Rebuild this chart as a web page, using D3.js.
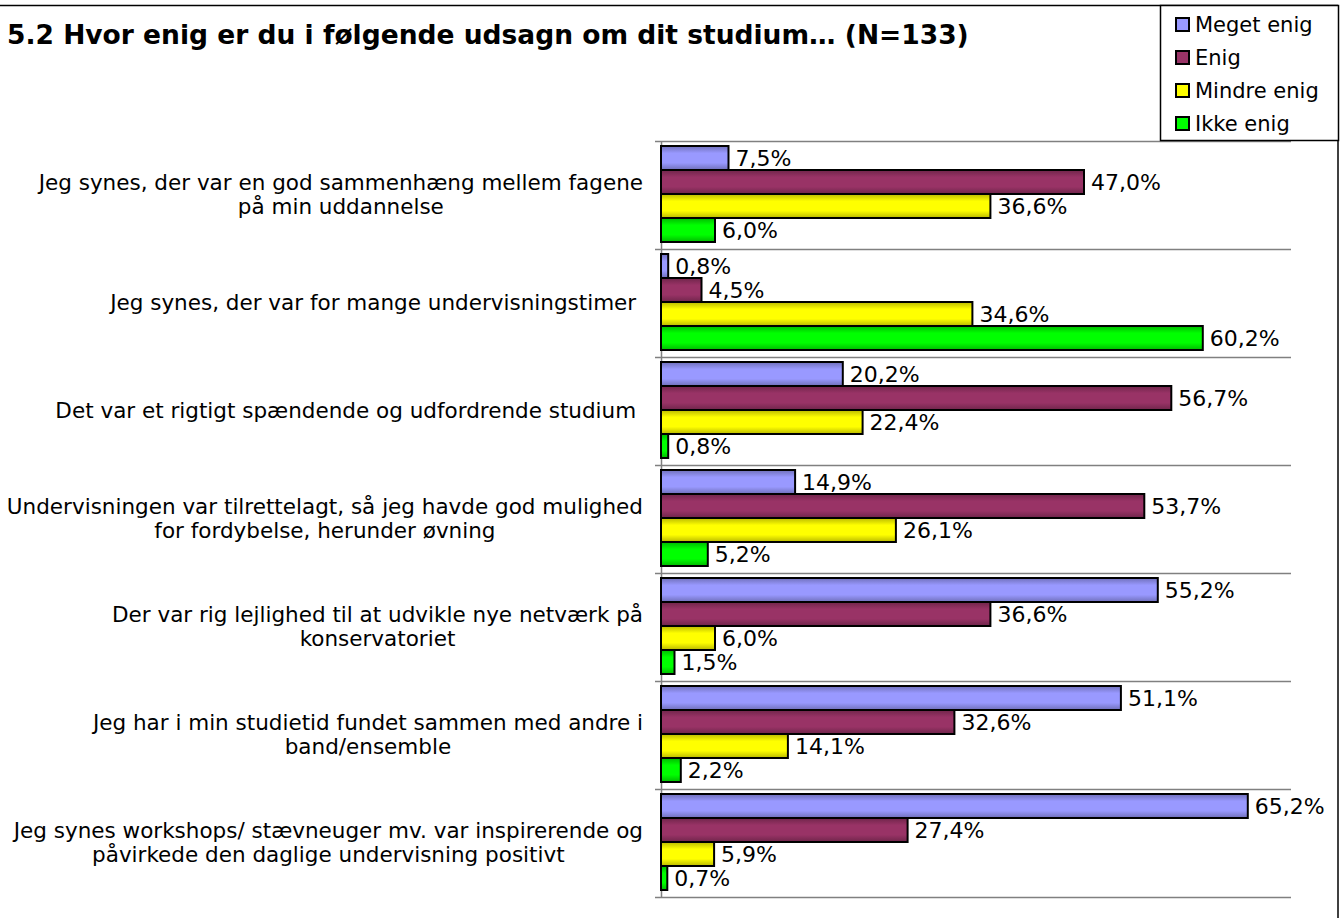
<!DOCTYPE html>
<html lang="da">
<head>
<meta charset="utf-8">
<script src="https://d3js.org/d3.v7.min.js"></script>
<style>
  body { margin: 0; background: #fff; }
  text { font-family: Verdana, "DejaVu Sans", sans-serif; fill: #000; white-space: pre; }
</style>
</head>
<body>
<script>
// chart data
var categories = [
  ["Jeg synes, der var en god sammenhæng mellem fagene", "på min uddannelse"],
  ["Jeg synes, der var for mange undervisningstimer "],
  ["Det var et rigtigt spændende og udfordrende studium "],
  ["Undervisningen var tilrettelagt, så jeg havde god mulighed", "for fordybelse, herunder øvning"],
  ["Der var rig lejlighed til at udvikle nye netværk på", "konservatoriet"],
  ["Jeg har i min studietid fundet sammen med andre i", "band/ensemble"],
  ["Jeg synes workshops/ stævneuger mv. var inspirerende og", "påvirkede den daglige undervisning positivt"]
];
var seriesNames = ["Meget enig", "Enig", "Mindre enig", "Ikke enig"];
var megetEnig = [7.5, 0.8, 20.2, 14.9, 55.2, 51.1, 65.2];
var enig = [47.0, 4.5, 56.7, 53.7, 36.6, 32.6, 27.4];
var mindreEnig = [36.6, 34.6, 22.4, 26.1, 6.0, 14.1, 5.9];
var ikkeEnig = [6.0, 60.2, 0.8, 5.2, 1.5, 2.2, 0.7];
var seriesColors = ["#9999ff", "#993366", "#ffff00", "#00ff00"];
var seriesValues = [megetEnig, enig, mindreEnig, ikkeEnig];

var width = 1344, height = 918;
var svg = d3.select("body").append("svg")
  .attr("width", width).attr("height", height);

// gradients for the shaded bar look
var defs = svg.append("defs");
seriesColors.forEach(function (c, i) {
  var g = defs.append("linearGradient").attr("id", "grad" + i)
    .attr("x1", 0).attr("y1", 0).attr("x2", 0).attr("y2", 1);
  var dark = d3.color(c).darker(0.9);
  g.append("stop").attr("offset", "0%").attr("stop-color", dark);
  g.append("stop").attr("offset", "30%").attr("stop-color", c);
  g.append("stop").attr("offset", "70%").attr("stop-color", c);
  g.append("stop").attr("offset", "100%").attr("stop-color", dark);
});

// frame (top + right edges)
svg.append("line").attr("x1", 0).attr("x2", 1338).attr("y1", 5.5).attr("y2", 5.5)
  .attr("stroke", "#000").attr("stroke-width", 1.5);
svg.append("line").attr("x1", 1338).attr("x2", 1338).attr("y1", 5).attr("y2", height)
  .attr("stroke", "#000").attr("stroke-width", 1.5);

// title
svg.append("text").attr("x", 7).attr("y", 44)
  .style("font-weight", "bold").style("font-size", "26.5px")
  .text("5.2 Hvor enig er du i følgende udsagn om dit studium… (N=133)");

var x = d3.scaleLinear().domain([0, 70]).range([661, 1291]);
var y = d3.scaleBand().domain(d3.range(categories.length)).range([141, 897]);
var inner = d3.scaleBand().domain(d3.range(4)).range([5, y.bandwidth() - 7]);

var comma = d3.formatLocale({ decimal: ",", thousands: ".", grouping: [3], currency: ["", " kr."] });
var fmt = comma.format(".1f");

// separators between categories
var seps = d3.range(categories.length + 1).map(function (i) {
  return i < categories.length ? y(i) : y.range()[1];
});
svg.append("g").selectAll("line").data(seps).join("line")
  .attr("x1", 655).attr("x2", 1291)
  .attr("y1", function (d) { return d + 0.5; }).attr("y2", function (d) { return d + 0.5; })
  .attr("stroke", "#808080").attr("stroke-width", 1.5);
svg.append("line").attr("x1", 661.5).attr("x2", 661.5).attr("y1", 141).attr("y2", 898)
  .attr("stroke", "#808080").attr("stroke-width", 1.5);

// category labels: block right edge at 643, lines centred in the block
var lab = svg.append("g").selectAll("text").data(categories).join("text")
  .attr("text-anchor", "middle").style("font-size", "21.5px")
  .attr("y", function (d, i) {
    return y(i) + y.bandwidth() / 2 + 7 - (d.length - 1) * 12;
  });
lab.selectAll("tspan").data(function (d) { return d; }).join("tspan")
  .attr("dy", function (d, j) { return j === 0 ? 0 : 24; })
  .text(function (d) { return d; });
lab.each(function () {
  var t = d3.select(this);
  var maxW = 0;
  t.selectAll("tspan").each(function () {
    maxW = Math.max(maxW, this.getComputedTextLength());
  });
  t.selectAll("tspan").attr("x", 643 - maxW / 2);
});

// bars
seriesValues.forEach(function (vals, s) {
  var g = svg.append("g");
  g.selectAll("rect").data(vals).join("rect")
    .attr("x", x(0))
    .attr("y", function (d, i) { return y(i) + inner(s); })
    .attr("width", function (d) { return x(d) - x(0); })
    .attr("height", inner.bandwidth())
    .attr("fill", "url(#grad" + s + ")")
    .attr("stroke", "#000").attr("stroke-width", 2);
  g.selectAll("text").data(vals).join("text")
    .attr("x", function (d) { return x(d) + 7; })
    .attr("y", function (d, i) { return y(i) + inner(s) + inner.bandwidth() / 2 + 8; })
    .style("font-size", "22px")
    .text(function (d) { return fmt(d) + "%"; });
});

// legend
svg.append("rect").attr("x", 1160.5).attr("y", 5.5).attr("width", 178).attr("height", 135)
  .attr("fill", "#fff").attr("stroke", "#000").attr("stroke-width", 1.5);
var leg = svg.append("g").selectAll("g").data(seriesNames).join("g")
  .attr("transform", function (d, i) { return "translate(1176," + (25 + i * 33) + ")"; });
leg.append("rect").attr("x", 0).attr("y", -7).attr("width", 13).attr("height", 13)
  .attr("fill", function (d, i) { return seriesColors[i]; })
  .attr("stroke", "#000").attr("stroke-width", 2);
leg.append("text").attr("x", 19).attr("y", 7).style("font-size", "21px")
  .text(function (d) { return d; });
</script>
</body>
</html>
